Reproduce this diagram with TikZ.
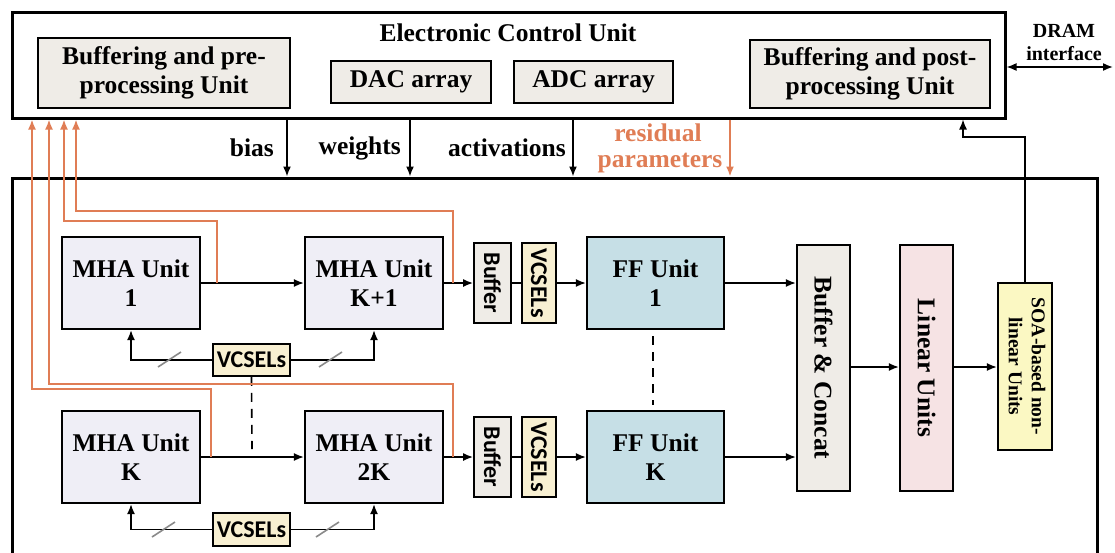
\documentclass[tikz,border=0pt]{standalone}
\usepackage{fontspec}
\setmainfont{Liberation Serif}
\newfontfamily\calfont{Carlito}
\usetikzlibrary{arrows.meta}
\definecolor{orng}{HTML}{E07D55}
\definecolor{bufgray}{HTML}{EFECE7}
\definecolor{mhafill}{HTML}{EFEEF6}
\definecolor{vcfill}{HTML}{F8F0D2}
\definecolor{fffill}{HTML}{C6DFE6}
\definecolor{linfill}{HTML}{F6E3E4}
\definecolor{soafill}{HTML}{FBF8C3}
\definecolor{slashgray}{HTML}{8A8A8A}
\tikzset{
  txt/.style={font=\bfseries\fontsize{25.5}{29}\selectfont, align=center, inner sep=0pt},
  box/.style={draw, line width=2.2pt, inner sep=0pt, align=center, font=\bfseries\fontsize{25.5}{29}\selectfont},
  frame/.style={draw, line width=3pt, inner sep=0pt},
  sbox/.style={draw, line width=1.8pt, inner sep=0pt, align=center, font=\calfont\bfseries\fontsize{24}{26}\selectfont},
  arr/.style={line width=1.6pt, -{Latex[length=10pt,width=8pt]}},
  oarr/.style={draw=orng, line width=1.8pt, -{Latex[length=10pt,width=8pt]}},
  conn/.style={line width=1.6pt},
  dsh/.style={line width=1.6pt, dash pattern=on 9pt off 7pt},
  slash/.style={draw=slashgray, line width=1.6pt},
}
\begin{document}
\begin{tikzpicture}[x=1pt,y=-1pt]
\useasboundingbox (0,0) rectangle (1115,552);
\clip (0,0) rectangle (1115,552);
\fill[white] (0,0) rectangle (1115,552);

% Electronic control unit
\node[frame, minimum width=993pt, minimum height=106pt] (ecu) at (508.5,65) {};
\node[txt] (ecut) at (508,33) {Electronic Control Unit};
\node[box, fill=bufgray, minimum width=252pt, minimum height=70pt] (prebuf) at (164,73) {Buffering and pre-\\processing Unit};
\node[box, fill=bufgray, minimum width=160pt, minimum height=42pt] (dac) at (411,82) {DAC array};
\node[box, fill=bufgray, minimum width=159pt, minimum height=42pt] (adc) at (593.5,82) {ADC array};
\node[box, fill=bufgray, minimum width=240pt, minimum height=68pt] (postbuf) at (870,74) {Buffering and post-\\processing Unit};
\node[font=\bfseries\fontsize{20}{23}\selectfont, align=center, inner sep=0pt] (dram) at (1064,42) {DRAM\\interface};
\coordinate (dramR) at (1113,67);
\draw[line width=1.6pt, {Latex[length=10pt,width=8pt]}-{Latex[length=10pt,width=8pt]}] (ecu.east |- dramR) -- (dramR);

% core
\node[frame, minimum width=1085pt, minimum height=442pt] (core) at (554.5,399) {};

% control arrows
\coordinate (bx) at (287,0);
\coordinate (wx) at (410,0);
\coordinate (ax) at (573,0);
\coordinate (rx) at (730,0);
\draw[arr] (ecu.south -| bx) -- (core.north -| bx);
\draw[arr] (ecu.south -| wx) -- (core.north -| wx);
\draw[arr] (ecu.south -| ax) -- (core.north -| ax);
\draw[oarr] (ecu.south -| rx) -- (core.north -| rx);
\node[txt, anchor=east] (biasl) at (274,148) {bias};
\node[txt, anchor=east] (wl) at (401,148) {weights};
\node[txt, anchor=east] (al) at (566,148) {activations};
\node[txt, text=orng] (resl) at (658,133) {residual};
\node[txt, text=orng] (parl) at (660,163) {parameters};

% MHA units
\node[box, fill=mhafill, minimum width=138pt, minimum height=92pt] (mha1) at (131,283) {MHA Unit\\1};
\node[box, fill=mhafill, minimum width=138pt, minimum height=92pt] (mhak1) at (374,283) {MHA Unit\\K+1};
\node[box, fill=mhafill, minimum width=138pt, minimum height=92pt] (mhak) at (131,457) {MHA Unit\\K};
\node[box, fill=mhafill, minimum width=138pt, minimum height=92pt] (mha2k) at (374,457) {MHA Unit\\2K};
\draw[arr] (mha1) -- (mhak1);
\draw[arr] (mhak) -- (mha2k);

% VCSELs under MHA
\node[sbox, fill=vcfill, minimum width=77pt, minimum height=32pt] (vc1) at (251.5,360) {VCSELs};
\node[sbox, fill=vcfill, minimum width=77pt, minimum height=33pt] (vc2) at (251.5,529.5) {VCSELs};
\draw[arr] (vc1.west) -| (mha1.south);
\draw[arr] (vc1.east) -| (mhak1.south);
\draw[arr] (vc2.west) -| (mhak.south);
\draw[arr] (vc2.east) -| (mha2k.south);
\draw[slash] (158,367) -- (181,352);
\draw[slash] (319,367) -- (342,352);
\draw[slash] (152,537) -- (175,522);
\draw[slash] (316,537) -- (339,522);
\coordinate (vdash) at (252,449);
\draw[dsh] (vc1.south) -- (vdash);

% Buffers and VCSELs before FF
\node[sbox, fill=bufgray, minimum width=37pt, minimum height=80pt] (buf1) at (492.5,283) {\rotatebox{-90}{Buffer}};
\node[sbox, fill=vcfill, minimum width=34pt, minimum height=80pt] (vcs1) at (539,283) {\rotatebox{-90}{VCSELs}};
\node[sbox, fill=bufgray, minimum width=37pt, minimum height=80pt] (buf2) at (492.5,457) {\rotatebox{-90}{Buffer}};
\node[sbox, fill=vcfill, minimum width=34pt, minimum height=80pt] (vcs2) at (539,457) {\rotatebox{-90}{VCSELs}};
\draw[arr] (mhak1) -- (buf1);
\draw[conn] (buf1) -- (vcs1);
\draw[arr] (mha2k) -- (buf2);
\draw[conn] (buf2) -- (vcs2);

% FF units
\node[box, fill=fffill, minimum width=137pt, minimum height=92pt] (ff1) at (655.5,283) {FF Unit\\1};
\node[box, fill=fffill, minimum width=137pt, minimum height=92pt] (ffk) at (655.5,457) {FF Unit\\K};
\draw[arr] (vcs1) -- (ff1);
\draw[arr] (vcs2) -- (ffk);
\coordinate (fdA) at (653,336);
\coordinate (fdB) at (653,405);
\draw[dsh] (fdA) -- (fdB);

% Buffer & concat, linear, SOA
\node[box, fill=bufgray, minimum width=53pt, minimum height=246pt] (bc) at (823.5,368) {\rotatebox{-90}{Buffer \& Concat}};
\node[box, fill=linfill, minimum width=53pt, minimum height=246pt] (lin) at (926.5,368) {\rotatebox{-90}{Linear Units}};
\node[box, fill=soafill, minimum width=54pt, minimum height=167pt, font=\bfseries\fontsize{19.5}{23}\selectfont] (soa) at (1025,366.5) {\rotatebox{-90}{\begin{tabular}{@{}c@{}}SOA-based non-\\linear Units\end{tabular}}};
\draw[arr] (ff1.east) -- (ff1.east -| bc.west);
\draw[arr] (ffk.east) -- (ffk.east -| bc.west);
\coordinate (midy) at (0,367);
\draw[arr] (bc.east |- midy) -- (lin.west |- midy);
\draw[arr] (lin.east |- midy) -- (soa.west |- midy);
\coordinate (fbk) at (963,137);
\draw[arr, line width=1.4pt] (soa.north) |- (fbk) -- (ecu.south -| fbk);

% residual orange paths
\coordinate (r1a) at (211,457);
\coordinate (r1b) at (211,389);
\coordinate (r1c) at (32,389);
\coordinate (r2a) at (453,457);
\coordinate (r2b) at (453,384);
\coordinate (r2c) at (49,384);
\coordinate (r3a) at (217,283);
\coordinate (r3b) at (217,221);
\coordinate (r3c) at (64,221);
\coordinate (r4a) at (453,283);
\coordinate (r4b) at (453,211);
\coordinate (r4c) at (76,211);
\draw[oarr] (r1a) -- (r1b) -- (r1c) -- (ecu.south -| r1c);
\draw[oarr] (r2a) -- (r2b) -- (r2c) -- (ecu.south -| r2c);
\draw[oarr] (r3a) -- (r3b) -- (r3c) -- (ecu.south -| r3c);
\draw[oarr] (r4a) -- (r4b) -- (r4c) -- (ecu.south -| r4c);
\end{tikzpicture}
\end{document}
